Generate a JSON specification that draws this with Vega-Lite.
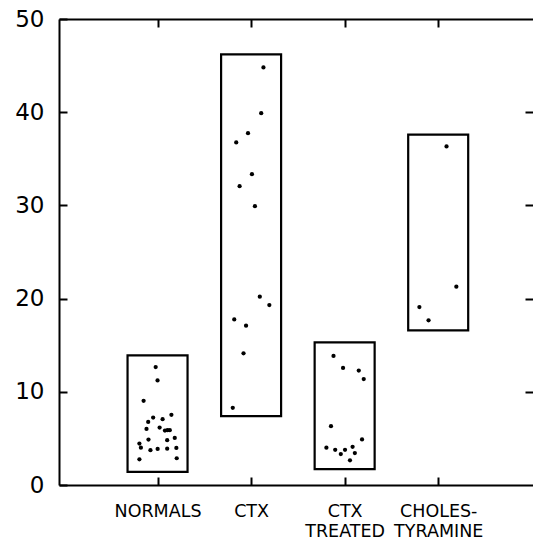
{
  "$schema": "https://vega.github.io/schema/vega-lite/v6.json",
  "autosize": {"type": "none"},
  "padding": {"left": 59, "top": 19, "right": 0, "bottom": 57},
  "width": 474,
  "height": 466,
  "background": "white",
  "config": {"view": {"stroke": null}, "font": "DejaVu Sans"},
  "datasets": {
    "boxes": [
      {"group": 1, "lo": 1.4, "hi": 13.9},
      {"group": 2, "lo": 7.4, "hi": 46.2},
      {"group": 3, "lo": 1.7, "hi": 15.3},
      {"group": 4, "lo": 16.6, "hi": 37.6}
    ],
    "dots": [
      {"pos": 0.98, "value": 12.66}, {"pos": 1.0, "value": 11.22}, {"pos": 0.851, "value": 9.03},
      {"pos": 1.148, "value": 7.53}, {"pos": 0.953, "value": 7.24}, {"pos": 1.054, "value": 7.06},
      {"pos": 0.9, "value": 6.77}, {"pos": 0.882, "value": 6.02}, {"pos": 1.022, "value": 6.16},
      {"pos": 1.079, "value": 5.84}, {"pos": 1.106, "value": 5.88}, {"pos": 1.131, "value": 5.88},
      {"pos": 0.903, "value": 4.87}, {"pos": 1.103, "value": 4.81}, {"pos": 1.184, "value": 5.05},
      {"pos": 0.806, "value": 4.44}, {"pos": 0.822, "value": 4.01}, {"pos": 0.924, "value": 3.73},
      {"pos": 1.001, "value": 3.87}, {"pos": 1.103, "value": 3.9}, {"pos": 1.201, "value": 3.98},
      {"pos": 0.806, "value": 2.76}, {"pos": 1.205, "value": 2.87},
      {"pos": 2.132, "value": 44.8}, {"pos": 2.108, "value": 39.9}, {"pos": 1.967, "value": 37.75},
      {"pos": 1.841, "value": 36.75}, {"pos": 2.009, "value": 33.35}, {"pos": 1.877, "value": 32.06},
      {"pos": 2.041, "value": 29.92}, {"pos": 2.093, "value": 20.2}, {"pos": 2.195, "value": 19.3},
      {"pos": 1.82, "value": 17.77}, {"pos": 1.946, "value": 17.1}, {"pos": 1.919, "value": 14.13},
      {"pos": 1.804, "value": 8.28},
      {"pos": 2.881, "value": 13.85}, {"pos": 2.983, "value": 12.56}, {"pos": 3.151, "value": 12.28},
      {"pos": 3.204, "value": 11.36}, {"pos": 2.854, "value": 6.31}, {"pos": 3.186, "value": 4.89},
      {"pos": 2.805, "value": 4.0}, {"pos": 2.899, "value": 3.78}, {"pos": 2.959, "value": 3.32},
      {"pos": 3.004, "value": 3.78}, {"pos": 3.085, "value": 4.1}, {"pos": 3.109, "value": 3.43},
      {"pos": 3.057, "value": 2.65},
      {"pos": 4.089, "value": 36.33}, {"pos": 4.194, "value": 21.28}, {"pos": 3.799, "value": 19.09},
      {"pos": 3.897, "value": 17.67}
    ]
  },
  "layer": [
    {
      "data": {"name": "boxes"},
      "mark": {"type": "bar", "filled": false, "stroke": "black", "strokeWidth": 2.2, "size": 60},
      "encoding": {
        "x": {
          "field": "group", "type": "quantitative",
          "scale": {"domain": [0, 4.96], "nice": false, "zero": false},
          "axis": {
            "orient": "bottom", "values": [1, 2, 3, 4], "title": null, "grid": false,
            "domainColor": "black", "domainWidth": 2, "tickColor": "black", "tickWidth": 2, "tickSize": -8,
            "labelExpr": "datum.value == 1 ? 'NORMALS' : datum.value == 2 ? 'CTX' : datum.value == 3 ? ['CTX', 'TREATED'] : ['CHOLES-', 'TYRAMINE']",
            "labelFont": "DejaVu Sans", "labelFontSize": 17.5, "labelColor": "black", "labelPadding": 25,
            "labelLineHeight": 20, "labelOverlap": false, "labelBound": false, "labelFlush": false
          }
        },
        "y": {
          "field": "lo", "type": "quantitative",
          "scale": {"domain": [0, 50], "nice": false, "zero": false},
          "axis": {
            "orient": "left", "values": [0, 10, 20, 30, 40, 50], "title": null, "grid": false,
            "domainColor": "black", "domainWidth": 2, "tickColor": "black", "tickWidth": 2, "tickSize": -8,
            "labelFont": "DejaVu Sans", "labelFontSize": 23, "labelColor": "black", "labelPadding": 23,
            "labelOverlap": false, "labelBound": false, "labelFlush": false
          }
        },
        "y2": {"field": "hi"}
      }
    },
    {
      "data": {"name": "dots"},
      "mark": {"type": "circle", "color": "black", "opacity": 1, "size": 18},
      "encoding": {
        "x": {
          "field": "pos", "type": "quantitative",
          "scale": {"domain": [0, 4.96], "nice": false, "zero": false},
          "axis": {
            "orient": "top", "values": [1, 2, 3, 4], "title": null, "grid": false, "labels": false,
            "domainColor": "black", "domainWidth": 2, "tickColor": "black", "tickWidth": 2, "tickSize": -8
          }
        },
        "y": {
          "field": "value", "type": "quantitative",
          "scale": {"domain": [0, 50], "nice": false, "zero": false},
          "axis": {
            "orient": "right", "values": [10, 20, 30, 40], "title": null, "grid": false, "labels": false,
            "domain": false, "tickColor": "black", "tickWidth": 2, "tickSize": -8
          }
        }
      }
    }
  ],
  "resolve": {"axis": {"x": "independent", "y": "independent"}}
}
